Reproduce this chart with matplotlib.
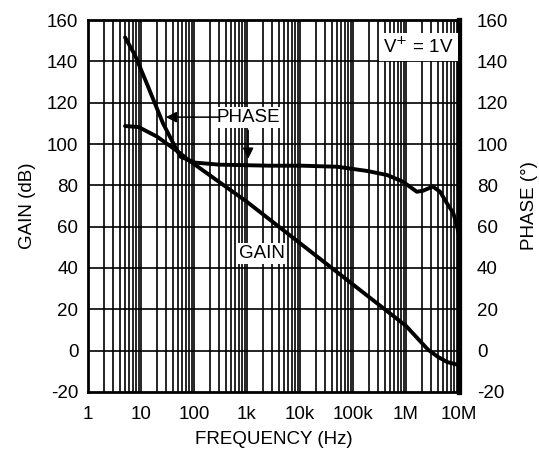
import numpy as np
import matplotlib
matplotlib.use("Agg")
import matplotlib.pyplot as plt

plt.rcParams["font.family"] = ["Liberation Sans", "DejaVu Sans"]
plt.rcParams["axes.unicode_minus"] = False

# values
gain_f = [5, 9, 20, 55, 78, 1e3, 1e4, 1e5, 1e6, 2.6e6, 4e6, 6e6, 1e7]
gain_db = [108.7, 108.2, 103.6, 95.5, 92.3, 72, 52, 32, 12, 0.5, -3, -5.5, -7]

phase_f = [5, 7.7, 12.8, 26, 55, 105, 300, 2.7e3, 1.1e4, 5e4, 1.8e5, 4.4e5,
           8.7e5, 1.6e6, 2.1e6, 3.2e6, 4.4e6, 5.9e6, 7.8e6, 9.2e6, 1e7]
phase_deg = [151.6, 143, 129.4, 110, 93.9, 91, 90, 89.5, 89.5, 89, 87, 85,
             81.8, 76.9, 77.4, 79.4, 76.9, 71.4, 66.6, 60, 56]

y_ticks = list(range(-20, 161, 20))
x_ticks = [1, 10, 100, 1e3, 1e4, 1e5, 1e6, 1e7]
x_labels = ["1", "10", "100", "1k", "10k", "100k", "1M", "10M"]

FS = 13.5

fig = plt.figure(figsize=(5.39, 4.55), dpi=100)
ax = fig.add_axes([88 / 539, 63 / 455, 371 / 539, 372 / 455])

ax.set_xscale("log")
ax.set_xlim(1, 1e7)
ax.set_ylim(-20, 160)

# dense log grid
for dec in range(7):
    for m in range(1, 10):
        f = m * 10 ** dec
        if 1 < f < 1e7:
            ax.axvline(f, color="black", lw=1.2, zorder=1)
for v in y_ticks[1:-1]:
    ax.axhline(v, color="black", lw=1.2, zorder=1)

ax.plot(gain_f, gain_db, color="black", lw=2.8, zorder=3, solid_capstyle="round")
ax.plot(phase_f, phase_deg, color="black", lw=2.8, zorder=3, solid_capstyle="round")

ax.set_xticks(x_ticks)
ax.set_xticklabels(x_labels)
ax.xaxis.set_minor_locator(matplotlib.ticker.NullLocator())
ax.set_yticks(y_ticks)
ax.tick_params(axis="y", length=0, labelsize=FS, pad=7)
ax.tick_params(axis="x", length=0, labelsize=FS, pad=10)

for s in ax.spines.values():
    s.set_linewidth(2.0)
ax.spines["right"].set_linewidth(3.8)

ax2 = ax.twinx()
ax2.set_ylim(-20, 160)
ax2.set_yticks(y_ticks)
ax2.tick_params(length=0, labelsize=FS, pad=13)
for s in ax2.spines.values():
    s.set_visible(False)

ax.set_ylabel("GAIN (dB)", fontsize=FS, labelpad=8)
ax2.set_ylabel("PHASE (°)", fontsize=FS, labelpad=9)
ax.set_xlabel("FREQUENCY (Hz)", fontsize=FS, labelpad=6)

box = dict(facecolor="white", edgecolor="none", pad=1.5)
ax.text(1050, 113, "PHASE", fontsize=FS, ha="center", va="center", bbox=box, zorder=5)
ax.annotate("", xy=(26, 113), xytext=(330, 113),
            arrowprops=dict(arrowstyle="-|>", color="black", lw=1.1,
                            mutation_scale=16), zorder=5)
ax.annotate("", xy=(1050, 91.5), xytext=(1050, 108),
            arrowprops=dict(arrowstyle="-|>", color="black", lw=1.1,
                            mutation_scale=16), zorder=5)
ax.text(1900, 47, "GAIN", fontsize=FS, ha="center", va="center", bbox=box, zorder=5)
ax.text(1.7e6, 147, "V$^{+}$ = 1V", fontsize=FS, ha="center", va="center",
        bbox=dict(facecolor="white", edgecolor="none", pad=3), zorder=5)

fig.savefig("out.png", dpi=100)
